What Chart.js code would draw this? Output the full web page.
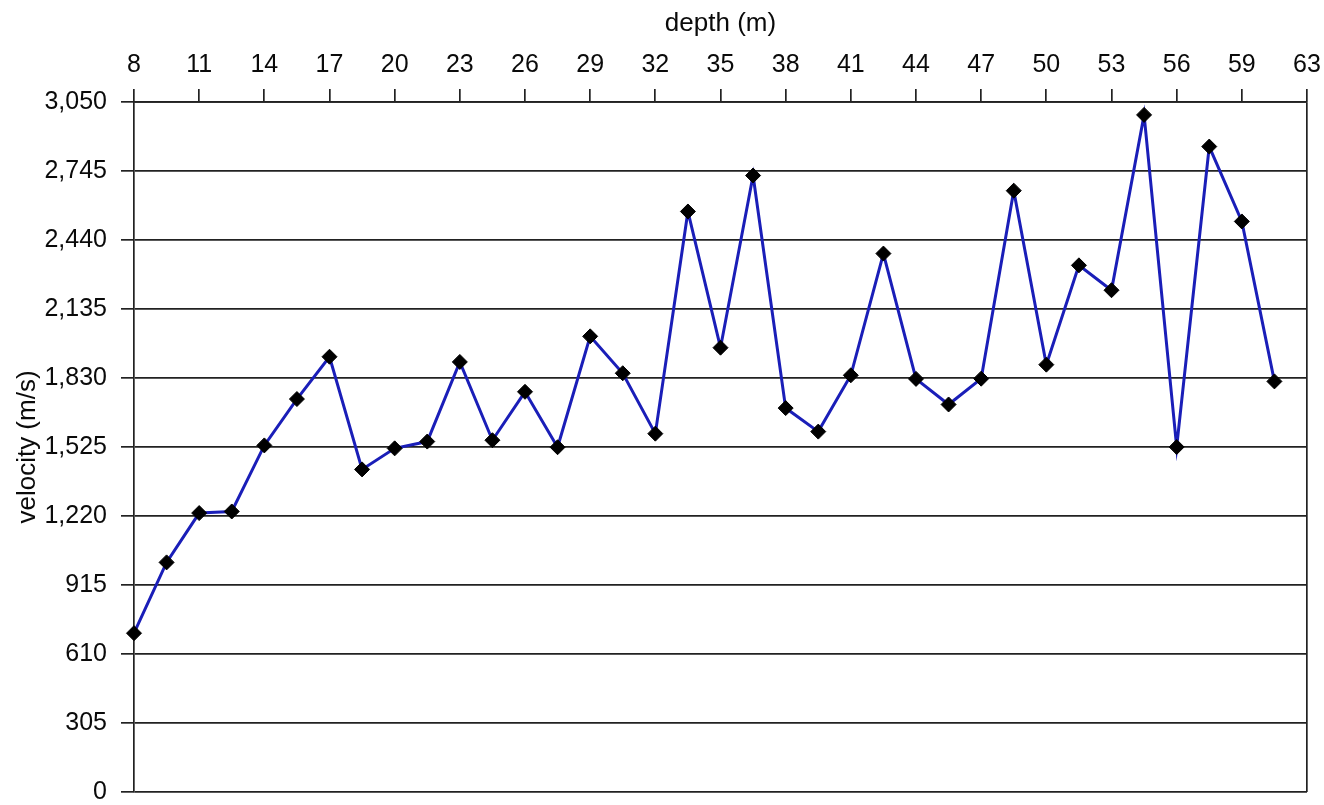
<!DOCTYPE html>
<html>
<head>
<meta charset="utf-8">
<script src="https://cdn.jsdelivr.net/npm/chart.js@4/dist/chart.umd.min.js"></script>
<style>
  html, body { margin: 0; padding: 0; background: #ffffff; }
  #wrap { width: 1324px; height: 805px; }
</style>
</head>
<body>
<div id="wrap"><canvas id="c" width="1324" height="805"></canvas></div>
<script>
// Labelled depths (m); a sample sits on each label and midway between labels.
const depthTicks = [8, 11, 14, 17, 20, 23, 26, 29, 32, 35, 38, 41, 44, 47, 50, 53, 56, 59, 63];

// Seismic velocity (m/s) at each sample depth.
const velocity = [
  702, 1015, 1233, 1240, 1532, 1737, 1924, 1426, 1519, 1549,
  1901, 1555, 1769, 1524, 2014, 1851, 1584, 2566, 1964, 2725,
  1697, 1593, 1842, 2380, 1826, 1713, 1827, 2658, 1889, 2328,
  2218, 2993, 1525, 2853, 2522, 1815
];

// Velocity gridlines (m/s).
const velocityTicks = [0, 305, 610, 915, 1220, 1525, 1830, 2135, 2440, 2745, 3050];

// One category per sample slot: labelled depths on even slots, blanks between.
const categories = [];
depthTicks.forEach((d, i) => {
  if (i > 0) categories.push('');
  categories.push(String(d));
});
const lastIndex = categories.length - 1;

const ink = '#222222';
const textInk = '#0a0a0a';
const family = "'Liberation Sans', Arial, Helvetica, sans-serif";

// Fixed box sizes; edge-label padding is dropped so the plot spans the layout padding exactly.
function fixBox(prop, size) {
  return s => {
    s[prop] = size;
    s.paddingTop = 0; s.paddingBottom = 0;
    s.paddingLeft = 0; s.paddingRight = 0;
  };
}

new Chart(document.getElementById('c'), {
  type: 'line',
  data: {
    labels: categories,
    datasets: [{
      data: velocity,
      borderColor: '#1a1eb8',
      borderWidth: 3,
      tension: 0,
      fill: false,
      clip: false,
      pointStyle: 'rectRot',
      pointRadius: 7.5,
      pointBackgroundColor: '#000000',
      pointBorderColor: '#000000',
      pointBorderWidth: 1
    }]
  },
  options: {
    responsive: false,
    animation: false,
    devicePixelRatio: 1,
    layout: { padding: { left: 0, top: 0, right: 17, bottom: 13 } },
    plugins: {
      legend: { display: false },
      tooltip: { enabled: false }
    },
    scales: {
      x: {
        type: 'category',
        position: 'top',
        offset: false,
        grid: {
          drawOnChartArea: true,
          drawTicks: true,
          tickLength: 13,
          lineWidth: 1.7,
          color: ctx => ctx.index === lastIndex ? ink : 'rgba(0,0,0,0)',
          tickColor: ctx => ctx.index % 2 === 0 ? ink : 'rgba(0,0,0,0)'
        },
        border: { display: true, color: ink, width: 1.7 },
        ticks: {
          autoSkip: false,
          maxRotation: 0,
          padding: 9,
          color: textInk,
          font: { family, size: 25 },
          callback: (v, i) => categories[i]
        },
        title: {
          display: true,
          text: 'depth (m)',
          color: textInk,
          font: { family, size: 26 },
          padding: { top: 8, bottom: 0 }
        },
        afterFit: fixBox('height', 102)
      },
      y: {
        min: 0,
        max: 3050,
        afterBuildTicks: s => { s.ticks = velocityTicks.map(v => ({ value: v })); },
        grid: {
          color: ink,
          lineWidth: 1.7,
          drawTicks: true,
          tickLength: 13
        },
        border: { display: true, color: ink, width: 1.7 },
        ticks: {
          padding: 14,
          color: textInk,
          font: { family, size: 25 },
          callback: v => Number(v).toLocaleString('en-US')
        },
        title: {
          display: true,
          text: 'velocity (m/s)',
          color: textInk,
          font: { family, size: 26 },
          padding: { top: 12, bottom: 0 }
        },
        afterFit: fixBox('width', 134)
      }
    }
  }
});
</script>
</body>
</html>
